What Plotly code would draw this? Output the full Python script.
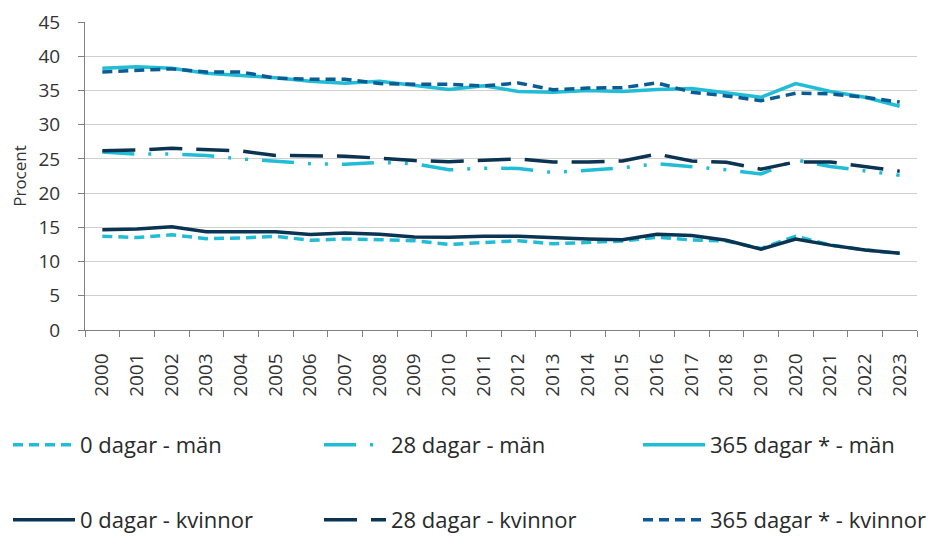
import plotly.graph_objects as go

years = [str(y) for y in range(2000, 2024)]

man_0 = [13.7, 13.5, 13.9, 13.35, 13.45, 13.7, 13.1, 13.3, 13.2, 13.05, 12.5, 12.8,
         13.05, 12.6, 12.8, 13.0, 13.55, 13.15, 13.0, 11.9, 13.7, 12.4, 11.7, 11.2]
man_28 = [26.0, 25.7, 25.7, 25.5, 25.0, 24.7, 24.3, 24.2, 24.5, 24.3, 23.4, 23.65,
          23.6, 23.0, 23.4, 23.7, 24.3, 23.9, 23.4, 22.8, 24.85, 23.9, 23.2, 22.6]
man_365 = [38.25, 38.45, 38.25, 37.5, 37.2, 36.85, 36.35, 36.05, 36.35, 35.8, 35.15, 35.7,
           34.85, 34.75, 35.0, 34.85, 35.15, 35.3, 34.65, 34.0, 36.0, 34.85, 34.0, 32.7]
kv_0 = [14.66, 14.75, 15.1, 14.35, 14.35, 14.35, 13.97, 14.17, 14.0, 13.6, 13.55, 13.7,
        13.7, 13.45, 13.3, 13.2, 14.0, 13.8, 13.1, 11.8, 13.3, 12.4, 11.7, 11.2]
kv_28 = [26.2, 26.3, 26.55, 26.3, 26.15, 25.5, 25.45, 25.4, 25.1, 24.75, 24.6, 24.75,
         25.0, 24.55, 24.55, 24.7, 25.7, 24.7, 24.5, 23.5, 24.55, 24.55, 23.9, 23.2]
kv_365 = [37.7, 37.9, 38.15, 37.7, 37.7, 36.8, 36.65, 36.65, 36.0, 35.9, 35.9, 35.65,
          36.1, 35.1, 35.35, 35.4, 36.1, 34.75, 34.2, 33.5, 34.6, 34.5, 34.0, 33.3]

names = ["0 dagar - män", "28 dagar - män", "365 dagar * - män",
         "0 dagar - kvinnor", "28 dagar - kvinnor", "365 dagar * - kvinnor"]

LIGHT = "#21bdd6"
NAVY = "#0b3352"
BLUE = "#0b5b94"

# page body has an 8px margin, so the figure is drawn 8px smaller
W, H = 934, 528
OFF = 8

series = [
    (names[0], man_0, LIGHT, "10px,6px"),
    (names[1], man_28, LIGHT, "32px,14px,3px,14px,3px,14px"),
    (names[2], man_365, LIGHT, "solid"),
    (names[3], kv_0, NAVY, "solid"),
    (names[4], kv_28, NAVY, "33px,14px"),
    (names[5], kv_365, BLUE, "10px,6px"),
]

# legend slots (screen px): text start x, row centre y
leg_text_x = [72, 393, 712, 72, 393, 712]
leg_row_y = [445, 445, 445, 520, 520, 520]
TEXT_OFFSET = 74

FONT = "Open Sans"
fig = go.Figure()
legends = {}
for i, (name, vals, col, dash) in enumerate(series):
    key = "legend" if i == 0 else f"legend{i + 1}"
    fig.add_trace(go.Scatter(
        x=years, y=vals, name=name, mode="lines",
        line=dict(color=col, width=3.5, dash=dash),
        legend=key,
    ))
    lx = (leg_text_x[i] - OFF - TEXT_OFFSET) / W
    ly = 1 - (leg_row_y[i] - OFF) / H
    legends[key] = dict(
        x=lx, y=ly, xanchor="left", yanchor="middle",
        xref="container", yref="container",
        orientation="h", itemwidth=62,
        font=dict(family=FONT, size=22, color="#2a2a2a"),
        bgcolor="rgba(0,0,0,0)",
    )

fig.update_layout(
    width=W, height=H,
    margin=dict(l=85 - OFF, r=W - (917 - OFF), t=22 - OFF, b=H - (330 - OFF), autoexpand=False),
    paper_bgcolor="white", plot_bgcolor="white",
    font=dict(family=FONT, size=18, color="#333333"),
    showlegend=True,
    **legends,
    xaxis=dict(
        type="category", range=[-0.5, 23.5], automargin=False,
        tickangle=-90, ticks="outside", tickson="boundaries", ticklen=6,
        tickcolor="#808080", showline=True, linecolor="#808080", linewidth=1,
        showgrid=False, tickfont=dict(family=FONT, size=19, color="#333333"),
        ticksuffix="\u00a0\u00a0\u00a0",
    ),
    yaxis=dict(
        range=[0, 45], dtick=5, tick0=0, automargin=False,
        ticks="outside", ticklen=6, tickcolor="#808080",
        showline=True, linecolor="#808080", linewidth=1,
        showgrid=True, gridcolor="#d0d0d0", gridwidth=1, zeroline=False,
        tickfont=dict(family=FONT, size=19, color="#333333"),
        ticklabelstandoff=14,
        title=dict(text="Procent", font=dict(family=FONT, size=17, color="#333333"), standoff=12),
    ),
)

fig.write_html("out.html")
